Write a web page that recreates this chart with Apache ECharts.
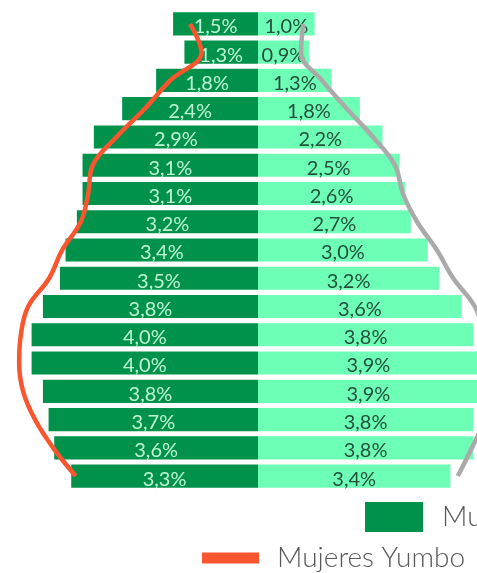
<!DOCTYPE html>
<html>
<head>
<meta charset="utf-8">
<script src="https://cdn.jsdelivr.net/npm/echarts@6/dist/echarts.min.js"></script>
<style>
  html, body { margin: 0; padding: 0; background: #fff; }
  #chart { width: 477px; height: 573px; }
</style>
</head>
<body>
<div id="chart"></div>
<script>
// grupos de edad, de arriba (mayores) hacia abajo (menores)
var edades = ['80+', '75-79', '70-74', '65-69', '60-64', '55-59', '50-54', '45-49', '40-44',
              '35-39', '30-34', '25-29', '20-24', '15-19', '10-14', '5-9', '0-4'];
var mujeres = [1.5, 1.3, 1.8, 2.4, 2.9, 3.1, 3.1, 3.2, 3.4, 3.5, 3.8, 4.0, 4.0, 3.8, 3.7, 3.6, 3.3];
var hombres = [1.0, 0.9, 1.3, 1.8, 2.2, 2.5, 2.6, 2.7, 3.0, 3.2, 3.6, 3.8, 3.9, 3.9, 3.8, 3.8, 3.4];
var mujeresYumbo = [1.2, 1.0, 1.55, 2.0, 2.5, 2.92, 3.0, 3.13, 3.46, 3.69, 4.06, 4.19, 4.22, 4.15, 3.94, 3.62, 3.22];
var hombresYumbo = [0.8, 0.76, 1.13, 1.57, 2.03, 2.42, 2.56, 2.81, 3.16, 3.45, 3.83, 4.0, 4.1, 4.1, 4.0, 3.78, 3.53];

function neg(arr) {
    return arr.map(function (v) { return -v; });
}
function pct(p) {
    return Math.abs(p.value).toFixed(1).replace('.', ',') + '%';
}

var myChart = echarts.init(document.getElementById('chart'));
var option = {
    animation: false,
    textStyle: { fontFamily: 'Lato' },
    grid: { left: 3.3, width: 509.4, top: 9.8, height: 480.4, outerBoundsMode: 'none', containLabel: false },
    xAxis: {
        type: 'value', min: -4.5, max: 4.5, show: false
    },
    yAxis: {
        type: 'category', data: edades, inverse: true, show: false
    },
    legend: [{
        // fila 1 (cortada a la derecha)
        left: 365, top: 502, padding: 0, width: 1000,
        itemWidth: 58, itemHeight: 30,
        selectedMode: false,
        data: [{ name: 'Mujeres Colombia', icon: 'rect' }],
        textStyle: { fontSize: 28, fontWeight: 300, color: '#595959', padding: [0, 0, 0, 14] }
    }, {
        // fila 2
        left: 202, top: 544, padding: 0, width: 1000,
        itemWidth: 57, itemHeight: 11,
        selectedMode: false,
        data: [{ name: 'Mujeres Yumbo', icon: 'rect' }],
        textStyle: { fontSize: 28, fontWeight: 300, color: '#595959', padding: [0, 0, 0, 13] }
    }],
    series: [{
        name: 'Mujeres Colombia',
        type: 'bar',
        stack: 'pir',
        barCategoryGap: '18%',
        data: neg(mujeres),
        itemStyle: { color: '#00914A' },
        label: {
            show: true, position: 'inside', offset: [0, 3],
            formatter: pct, fontSize: 20, color: '#BDF6D5'
        }
    }, {
        name: 'Hombres Colombia',
        type: 'bar',
        stack: 'pir',
        barCategoryGap: '18%',
        data: hombres,
        itemStyle: { color: '#6EFFB6' },
        label: {
            show: true, position: 'inside', offset: [0, 3],
            formatter: pct, fontSize: 20, color: '#22503A'
        }
    }, {
        name: 'Mujeres Yumbo',
        type: 'line',
        z: 5,
        smooth: 0.4,
        symbol: 'none',
        data: neg(mujeresYumbo),
        color: '#F9552F',
        lineStyle: { width: 4.5, color: '#F9552F' }
    }, {
        name: 'Hombres Yumbo',
        type: 'line',
        z: 5,
        smooth: 0.4,
        symbol: 'none',
        data: hombresYumbo,
        color: '#AAAAAA',
        lineStyle: { width: 4.5, color: '#AAAAAA' }
    }]
};
myChart.setOption(option);
</script>
</body>
</html>
